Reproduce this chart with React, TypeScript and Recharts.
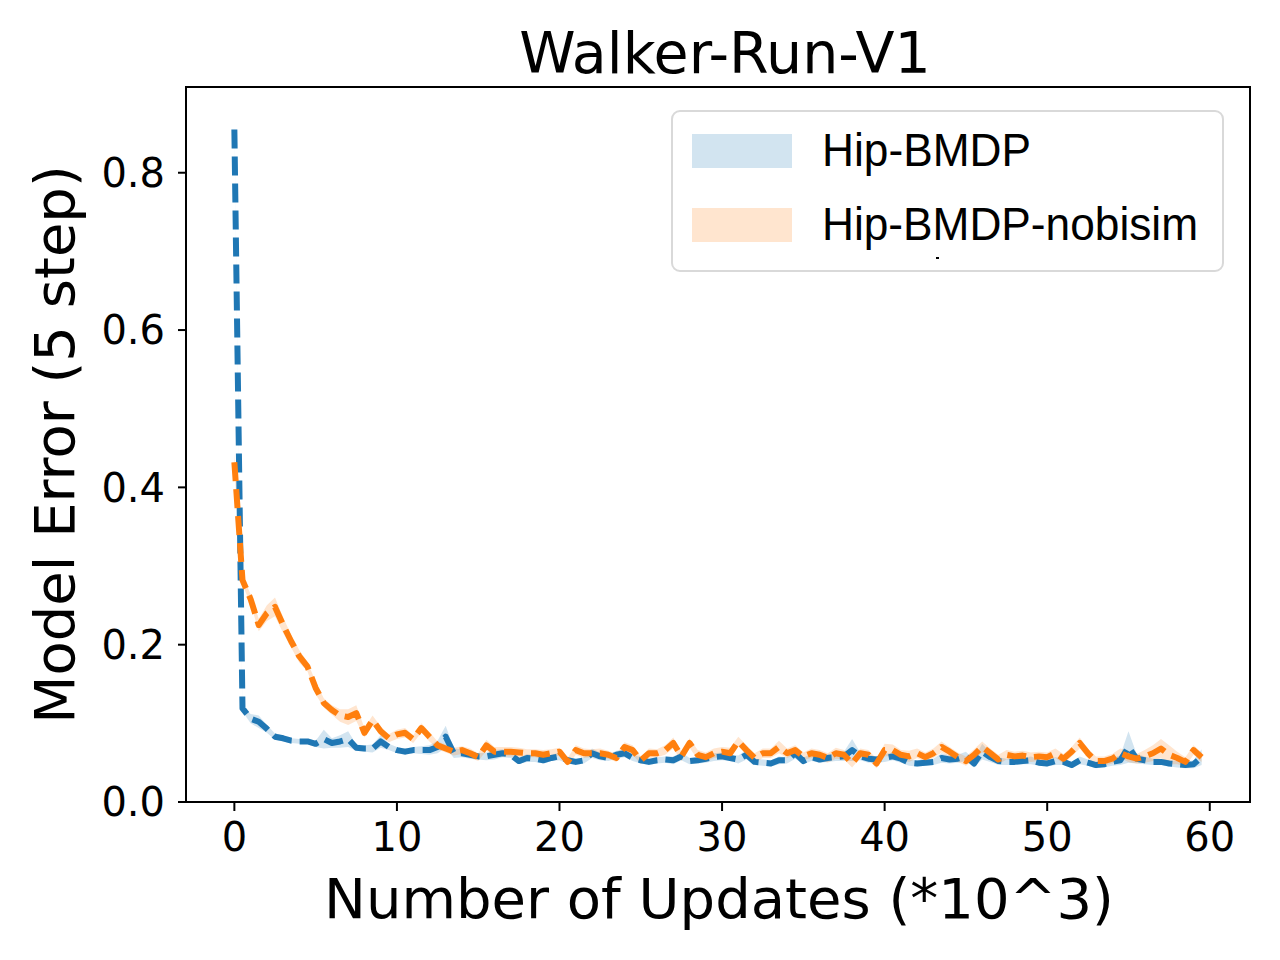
import React from "react";
import { ComposedChart, Line, Area, XAxis, YAxis, Label, ReferenceArea } from "recharts";

const xValues: number[] = Array.from({ length: 120 }, (_, i) => i * 0.5);

const blueMean: number[] = [
  0.855, 0.119, 0.106, 0.102, 0.093, 0.083, 0.081, 0.078, 0.077, 0.077,
  0.074, 0.080, 0.075, 0.077, 0.080, 0.069, 0.068, 0.068, 0.077, 0.070,
  0.066, 0.064, 0.066, 0.066, 0.066, 0.070, 0.083, 0.062, 0.062, 0.060,
  0.058, 0.058, 0.060, 0.062, 0.060, 0.052, 0.056, 0.055, 0.053, 0.056,
  0.058, 0.053, 0.051, 0.053, 0.062, 0.058, 0.056, 0.060, 0.062, 0.056,
  0.053, 0.051, 0.053, 0.054, 0.053, 0.058, 0.052, 0.053, 0.055, 0.057,
  0.058, 0.056, 0.054, 0.060, 0.051, 0.050, 0.049, 0.053, 0.053, 0.062,
  0.052, 0.057, 0.054, 0.056, 0.057, 0.058, 0.066, 0.058, 0.055, 0.054,
  0.056, 0.058, 0.055, 0.050, 0.049, 0.050, 0.051, 0.056, 0.054, 0.055,
  0.058, 0.049, 0.064, 0.057, 0.052, 0.051, 0.051, 0.052, 0.053, 0.050,
  0.049, 0.052, 0.051, 0.047, 0.053, 0.050, 0.047, 0.048, 0.051, 0.053,
  0.070, 0.055, 0.053, 0.051, 0.051, 0.049, 0.048, 0.047, 0.048, 0.057,
];

const blueStd: number[] = [
  0.004, 0.004, 0.006, 0.008, 0.005, 0.004, 0.004, 0.003, 0.003, 0.003,
  0.004, 0.012, 0.006, 0.008, 0.010, 0.004, 0.004, 0.005, 0.008, 0.004,
  0.004, 0.004, 0.004, 0.005, 0.006, 0.008, 0.014, 0.006, 0.005, 0.005,
  0.004, 0.005, 0.006, 0.005, 0.004, 0.004, 0.005, 0.004, 0.004, 0.004,
  0.005, 0.004, 0.004, 0.004, 0.006, 0.005, 0.004, 0.005, 0.005, 0.004,
  0.004, 0.004, 0.004, 0.004, 0.005, 0.005, 0.004, 0.004, 0.005, 0.005,
  0.005, 0.004, 0.005, 0.006, 0.004, 0.004, 0.004, 0.005, 0.004, 0.007,
  0.004, 0.005, 0.004, 0.005, 0.005, 0.006, 0.014, 0.005, 0.005, 0.004,
  0.005, 0.005, 0.005, 0.004, 0.004, 0.004, 0.004, 0.006, 0.005, 0.005,
  0.006, 0.005, 0.010, 0.006, 0.005, 0.004, 0.004, 0.004, 0.005, 0.004,
  0.004, 0.005, 0.004, 0.004, 0.005, 0.004, 0.004, 0.004, 0.005, 0.006,
  0.020, 0.006, 0.005, 0.004, 0.004, 0.004, 0.004, 0.004, 0.005, 0.010,
];

const orangeMean: number[] = [
  0.432, 0.282, 0.258, 0.225, 0.240, 0.248, 0.225, 0.204, 0.185, 0.172,
  0.145, 0.126, 0.117, 0.110, 0.108, 0.113, 0.088, 0.104, 0.090, 0.081,
  0.086, 0.088, 0.080, 0.094, 0.083, 0.072, 0.068, 0.064, 0.066, 0.062,
  0.057, 0.072, 0.064, 0.064, 0.064, 0.063, 0.062, 0.062, 0.060, 0.062,
  0.064, 0.051, 0.066, 0.062, 0.062, 0.062, 0.060, 0.056, 0.070, 0.066,
  0.053, 0.062, 0.062, 0.066, 0.075, 0.058, 0.075, 0.060, 0.057, 0.062,
  0.064, 0.062, 0.077, 0.066, 0.056, 0.062, 0.062, 0.070, 0.062, 0.066,
  0.058, 0.062, 0.060, 0.056, 0.062, 0.060, 0.049, 0.062, 0.060, 0.049,
  0.066, 0.066, 0.060, 0.058, 0.062, 0.057, 0.062, 0.070, 0.064, 0.057,
  0.052, 0.060, 0.070, 0.062, 0.054, 0.060, 0.058, 0.059, 0.057, 0.058,
  0.057, 0.062, 0.055, 0.064, 0.075, 0.062, 0.052, 0.052, 0.055, 0.062,
  0.058, 0.055, 0.058, 0.062, 0.068, 0.060, 0.056, 0.051, 0.066, 0.057,
];

const orangeStd: number[] = [
  0.010, 0.006, 0.006, 0.008, 0.010, 0.012, 0.010, 0.008, 0.008, 0.006,
  0.008, 0.006, 0.006, 0.008, 0.010, 0.010, 0.006, 0.006, 0.006, 0.005,
  0.006, 0.006, 0.005, 0.006, 0.006, 0.005, 0.005, 0.005, 0.005, 0.006,
  0.005, 0.007, 0.006, 0.006, 0.006, 0.006, 0.005, 0.005, 0.006, 0.005,
  0.005, 0.005, 0.006, 0.006, 0.005, 0.006, 0.005, 0.005, 0.006, 0.006,
  0.005, 0.006, 0.005, 0.006, 0.007, 0.006, 0.006, 0.006, 0.006, 0.006,
  0.006, 0.007, 0.006, 0.006, 0.006, 0.006, 0.006, 0.008, 0.006, 0.006,
  0.005, 0.006, 0.006, 0.006, 0.007, 0.006, 0.005, 0.006, 0.006, 0.006,
  0.008, 0.007, 0.006, 0.007, 0.006, 0.006, 0.006, 0.007, 0.006, 0.006,
  0.006, 0.007, 0.007, 0.006, 0.006, 0.006, 0.006, 0.006, 0.006, 0.006,
  0.006, 0.006, 0.006, 0.006, 0.007, 0.006, 0.006, 0.006, 0.006, 0.006,
  0.007, 0.006, 0.008, 0.010, 0.012, 0.012, 0.008, 0.006, 0.006, 0.006,
];

const xTicks: number[] = [0, 10, 20, 30, 40, 50, 60];
const yTicks: number[] = [0, 0.2, 0.4, 0.6, 0.8];
const xDomain: [number, number] = [-2.975, 62.475];
const yDomain: [number, number] = [0, 0.909];
const seriesNames: string[] = ["Hip-BMDP", "Hip-BMDP-nobisim"];
const titleText = "Walker-Run-V1";
const xLabelText = "Number of Updates (*10^3)";
const yLabelText = "Model Error (5 step)";

const BLUE = "#1f77b4";
const ORANGE = "#ff7f0e";
const TICK_FONT = "'DejaVu Sans', sans-serif";
const LEGEND_FONT = "'Liberation Sans', Arial, sans-serif";

const data = xValues.map((x, i) => ({
  x,
  blue: blueMean[i],
  blueBand: [blueMean[i] - blueStd[i], blueMean[i] + blueStd[i]],
  orange: orangeMean[i],
  orangeBand: [orangeMean[i] - orangeStd[i], orangeMean[i] + orangeStd[i]],
}));

const LegendBox = () => (
  <svg width={554} height={163} style={{ display: "block" }}>
    <rect x={1} y={1} width={551} height={160} rx={8} ry={8} fill="#ffffff" stroke="#d9d9d9" strokeWidth={2} />
    <rect x={21} y={24} width={100} height={34} fill={BLUE} fillOpacity={0.2} />
    <rect x={21} y={98} width={100} height={34} fill={ORANGE} fillOpacity={0.2} />
    <text x={151} y={56} fontFamily={LEGEND_FONT} fontSize={46} fill="#000"
      textLength={209} lengthAdjust="spacingAndGlyphs">{seriesNames[0]}</text>
    <text x={151} y={130} fontFamily={LEGEND_FONT} fontSize={46} fill="#000"
      textLength={376} lengthAdjust="spacingAndGlyphs">{seriesNames[1]}</text>
    <rect x={265} y={147} width={3} height={2} fill="#000" />
  </svg>
);

export default function App() {
  return (
    <div style={{ position: "absolute", left: 0, top: 0, width: 1280, height: 960, background: "#fff" }}>
      <ComposedChart width={1280} height={960} data={data}
        margin={{ top: 87, right: 30, left: 0, bottom: 0 }}>
        <XAxis dataKey="x" type="number" domain={xDomain} ticks={xTicks}
          allowDataOverflow height={158} stroke="#000" tickLine={{ stroke: "#000", strokeWidth: 2 }}
          axisLine={{ stroke: "#000", strokeWidth: 2 }} tickSize={9} tickMargin={12}
          tick={{ fill: "#000", fontSize: 40, fontFamily: TICK_FONT }}>
          <Label content={() => (
            <text x={719} y={918} textAnchor="middle" fontFamily={TICK_FONT} fontSize={56} fill="#000">{xLabelText}</text>
          )} />
        </XAxis>
        <YAxis type="number" domain={yDomain} ticks={yTicks} allowDataOverflow width={186}
          tickFormatter={(v: number) => v.toFixed(1)} stroke="#000"
          tickLine={{ stroke: "#000", strokeWidth: 2 }} axisLine={{ stroke: "#000", strokeWidth: 2 }}
          tickSize={8} tickMargin={13} tick={{ fill: "#000", fontSize: 40, fontFamily: TICK_FONT }}>
          <Label content={() => (
            <g>
              <text x={74} y={444.5} textAnchor="middle" fontFamily={TICK_FONT} fontSize={56} fill="#000"
                transform="rotate(-90 74 444.5)">{yLabelText}</text>
              <text x={725} y={73} textAnchor="middle" fontFamily={TICK_FONT} fontSize={57} fill="#000">{titleText}</text>
            </g>
          )} />
        </YAxis>
        <ReferenceArea x1={xDomain[0]} x2={xDomain[1]} y1={yDomain[0]} y2={yDomain[1]}
          fill="none" fillOpacity={0} stroke="#000" strokeWidth={2} ifOverflow="visible" />
        <Area dataKey="blueBand" type="linear" stroke="none" fill={BLUE} fillOpacity={0.2}
          isAnimationActive={false} legendType="none" />
        <Line dataKey="blue" type="linear" stroke={BLUE} strokeWidth={6} strokeDasharray="19 8"
          strokeLinejoin="round" dot={false} activeDot={false} isAnimationActive={false} />
        <Area dataKey="orangeBand" type="linear" stroke="none" fill={ORANGE} fillOpacity={0.2}
          isAnimationActive={false} legendType="none" />
        <Line dataKey="orange" type="linear" stroke={ORANGE} strokeWidth={6} strokeDasharray="19 8"
          strokeLinejoin="round" dot={false} activeDot={false} isAnimationActive={false} />
      </ComposedChart>
      <div style={{ position: "absolute", left: 671, top: 110, width: 554, height: 163 }}>
        <LegendBox />
      </div>
    </div>
  );
}
